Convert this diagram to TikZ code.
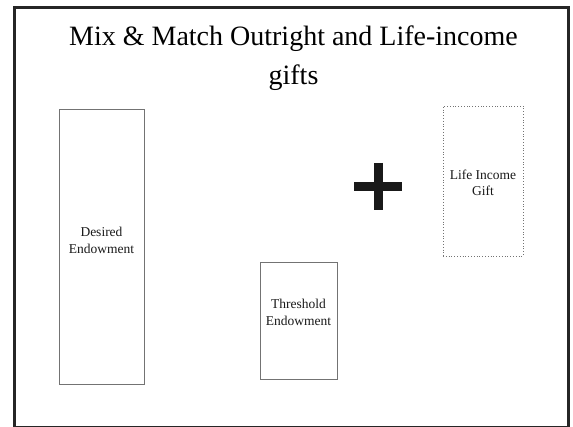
\documentclass[tikz,border=0pt]{standalone}
\usepackage{fontspec}
\setmainfont{Liberation Serif}
\usetikzlibrary{positioning}

\begin{document}
\begin{tikzpicture}[
          x=1pt, y=-1pt,
          frame/.style={draw=black!85, line width=3pt},
          giftbox/.style={draw=black!55, line width=0.8pt, inner sep=0pt},
          lbl/.style={align=center, font=\fontsize{13.5}{16.5}\selectfont, text=black!90},
          plusbar/.style={draw=black!90, line width=9pt}
        ]
          \useasboundingbox (0,0) rectangle (573,427);
          % 外枠
          \draw[frame] (14,8) rectangle (568,428);

          % タイトル
          \node[align=center, font=\fontsize{28}{39}\selectfont, anchor=base] (title) at (293.5,85)
            {Mix \& Match Outright and Life-income\\gifts};

          % 箱の配置
          \node[giftbox, minimum width=85pt, minimum height=275pt] (desired) at (101.5,246.5) {};
          \node[giftbox, minimum width=77pt, minimum height=117pt] (threshold) at (298.5,320.5) {};
          \node[giftbox, dotted, minimum width=80pt, minimum height=150pt] (lifegift) at (483,181) {};

          % ラベル
          \node[lbl] (desiredlbl) at ([yshift=6pt]desired.center) {Desired\\Endowment};
          \node[lbl] (thresholdlbl) at ([yshift=8pt]threshold.center) {Threshold\\Endowment};
          \node[lbl] (lifegiftlbl) at ([yshift=-2pt]lifegift.center) {Life Income\\Gift};

          % プラス記号
          \coordinate (plus) at (378,187);
          \draw[plusbar] ([xshift=-24pt]plus) -- ([xshift=24pt]plus);
          \draw[plusbar] ([yshift=24pt]plus) -- ([yshift=-23pt]plus);
        \end{tikzpicture}
\end{document}
